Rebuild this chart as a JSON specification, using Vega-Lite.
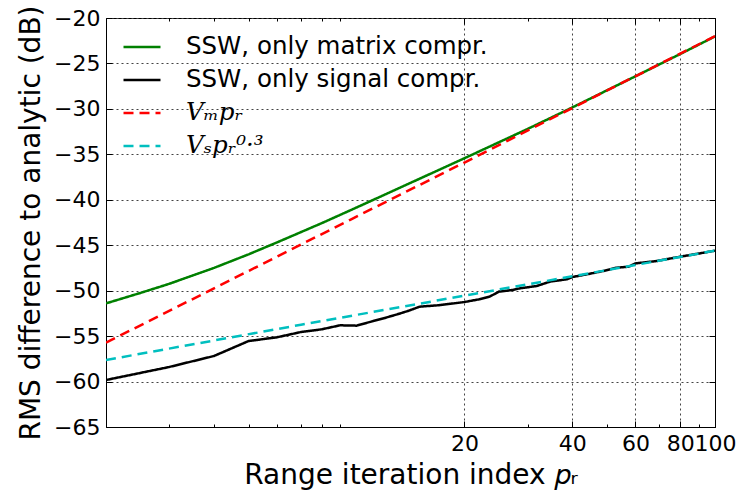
{
  "$schema": "https://vega.github.io/schema/vega-lite/v6.json",
  "width": 609,
  "height": 409,
  "autosize": {"type": "none"},
  "padding": {"left": 106, "top": 18, "right": 24, "bottom": 67},
  "background": "white",
  "config": {"view": {"stroke": "#000", "strokeWidth": 1}, "font": "DejaVu Sans"},
  "data": {"values": [
    {"series": "SSW, only matrix compr.", "p": 2, "db": -51.4},
    {"series": "SSW, only matrix compr.", "p": 2.5, "db": -50.24},
    {"series": "SSW, only matrix compr.", "p": 3, "db": -49.25},
    {"series": "SSW, only matrix compr.", "p": 4, "db": -47.5},
    {"series": "SSW, only matrix compr.", "p": 5, "db": -46.0},
    {"series": "SSW, only matrix compr.", "p": 6, "db": -44.69},
    {"series": "SSW, only matrix compr.", "p": 8, "db": -42.57},
    {"series": "SSW, only matrix compr.", "p": 10, "db": -40.85},
    {"series": "SSW, only matrix compr.", "p": 15, "db": -37.68},
    {"series": "SSW, only matrix compr.", "p": 20, "db": -35.43},
    {"series": "SSW, only matrix compr.", "p": 30, "db": -32.21},
    {"series": "SSW, only matrix compr.", "p": 40, "db": -29.84},
    {"series": "SSW, only matrix compr.", "p": 60, "db": -26.41},
    {"series": "SSW, only matrix compr.", "p": 80, "db": -23.96},
    {"series": "SSW, only matrix compr.", "p": 100, "db": -22.03},
    {"series": "SSW, only signal compr.", "p": 2, "db": -59.83},
    {"series": "SSW, only signal compr.", "p": 3, "db": -58.4},
    {"series": "SSW, only signal compr.", "p": 4, "db": -57.19},
    {"series": "SSW, only signal compr.", "p": 5, "db": -55.54},
    {"series": "SSW, only signal compr.", "p": 6, "db": -55.13},
    {"series": "SSW, only signal compr.", "p": 7, "db": -54.55},
    {"series": "SSW, only signal compr.", "p": 8, "db": -54.25},
    {"series": "SSW, only signal compr.", "p": 9, "db": -53.81},
    {"series": "SSW, only signal compr.", "p": 10, "db": -53.85},
    {"series": "SSW, only signal compr.", "p": 11, "db": -53.4},
    {"series": "SSW, only signal compr.", "p": 12, "db": -53.0},
    {"series": "SSW, only signal compr.", "p": 13, "db": -52.6},
    {"series": "SSW, only signal compr.", "p": 14, "db": -52.2},
    {"series": "SSW, only signal compr.", "p": 15, "db": -51.76},
    {"series": "SSW, only signal compr.", "p": 17, "db": -51.6},
    {"series": "SSW, only signal compr.", "p": 20, "db": -51.25},
    {"series": "SSW, only signal compr.", "p": 22, "db": -50.95},
    {"series": "SSW, only signal compr.", "p": 23.5, "db": -50.66},
    {"series": "SSW, only signal compr.", "p": 25, "db": -50.1},
    {"series": "SSW, only signal compr.", "p": 27, "db": -49.95},
    {"series": "SSW, only signal compr.", "p": 28.6, "db": -49.74},
    {"series": "SSW, only signal compr.", "p": 31.8, "db": -49.49},
    {"series": "SSW, only signal compr.", "p": 34.7, "db": -49.0},
    {"series": "SSW, only signal compr.", "p": 38.6, "db": -48.75},
    {"series": "SSW, only signal compr.", "p": 40, "db": -48.5},
    {"series": "SSW, only signal compr.", "p": 43.9, "db": -48.2},
    {"series": "SSW, only signal compr.", "p": 48.6, "db": -47.85},
    {"series": "SSW, only signal compr.", "p": 53.2, "db": -47.47},
    {"series": "SSW, only signal compr.", "p": 57.4, "db": -47.36},
    {"series": "SSW, only signal compr.", "p": 60, "db": -47.0},
    {"series": "SSW, only signal compr.", "p": 68.7, "db": -46.74},
    {"series": "SSW, only signal compr.", "p": 80, "db": -46.26},
    {"series": "SSW, only signal compr.", "p": 90.6, "db": -45.9},
    {"series": "SSW, only signal compr.", "p": 100, "db": -45.6},
    {"series": "Vₘpᵣ", "p": 2, "db": -55.72},
    {"series": "Vₘpᵣ", "p": 4.53, "db": -48.68},
    {"series": "Vₘpᵣ", "p": 9.6, "db": -42.2},
    {"series": "Vₘpᵣ", "p": 20, "db": -35.9},
    {"series": "Vₘpᵣ", "p": 40, "db": -29.9},
    {"series": "Vₘpᵣ", "p": 80, "db": -23.92},
    {"series": "Vₘpᵣ", "p": 100, "db": -22.0},
    {"series": "Vₛpᵣ⁰·³", "p": 2, "db": -57.63},
    {"series": "Vₛpᵣ⁰·³", "p": 7, "db": -53.75},
    {"series": "Vₛpᵣ⁰·³", "p": 20, "db": -50.55},
    {"series": "Vₛpᵣ⁰·³", "p": 40, "db": -48.42},
    {"series": "Vₛpᵣ⁰·³", "p": 100, "db": -45.6}
  ]},
  "layer": [
    {
      "mark": {"type": "line", "strokeWidth": 2.5, "clip": true},
      "encoding": {
        "x": {
          "field": "p", "type": "quantitative",
          "scale": {"type": "log", "domain": [2, 100], "nice": false},
          "axis": {
            "values": [3, 4, 5, 6, 7, 8, 9, 20, 30, 40, 50, 60, 70, 80, 90, 100],
            "format": "d",
            "labelExpr": "indexof([20,40,60,80,100], datum.value) >= 0 ? datum.label : ''",
            "labelFontSize": 22, "labelColor": "#000", "labelPadding": 12,
            "labelOverlap": false, "labelFlush": false, "labelBound": false,
            "tickSize": {"condition": {"test": "indexof([20,40,60,80,100], datum.value) >= 0", "value": -6}, "value": -3},
            "tickColor": "#000",
            "grid": true, "gridColor": "#444", "gridDash": [2, 3], "gridWidth": 1,
            "gridOpacity": {"condition": {"test": "indexof([20,40,60,80], datum.value) >= 0", "value": 1}, "value": 0},
            "domainColor": "#000",
            "title": "Range iteration index 𝑝ᵣ",
            "titleFontSize": 28, "titleFontWeight": "normal", "titleColor": "#000", "titlePadding": 4
          }
        },
        "y": {
          "field": "db", "type": "quantitative",
          "scale": {"domain": [-65, -20], "nice": false, "zero": false},
          "axis": {
            "values": [-65, -60, -55, -50, -45, -40, -35, -30, -25, -20],
            "labelFontSize": 22, "labelColor": "#000", "labelPadding": 12,
            "labelOverlap": false, "labelFlush": false, "labelBound": false,
            "tickSize": -6, "tickColor": "#000",
            "grid": true, "gridColor": "#444", "gridDash": [2, 3], "gridWidth": 1,
            "domainColor": "#000",
            "title": "RMS difference to analytic (dB)",
            "titleFontSize": 28, "titleFontWeight": "normal", "titleColor": "#000", "titlePadding": 8
          }
        },
        "color": {
          "field": "series", "type": "nominal",
          "scale": {
            "domain": ["SSW, only matrix compr.", "SSW, only signal compr.", "Vₘpᵣ", "Vₛpᵣ⁰·³"],
            "range": ["#008000", "#000000", "#ff0000", "#00bfbf"]
          },
          "legend": {
            "orient": "none", "legendX": 16, "legendY": 9, "title": null,
            "symbolType": "stroke", "symbolSize": 1369, "symbolStrokeWidth": 2.5,
            "labelFontSize": 24.5, "labelColor": "#000", "labelOffset": 24, "labelLimit": 500,
            "rowPadding": 1,
            "encode": {"labels": {"update": {
              "font": {"signal": "indexof(datum.label, 'SSW') >= 0 ? 'DejaVu Sans' : 'DejaVu Serif'"},
              "fontStyle": {"signal": "indexof(datum.label, 'SSW') >= 0 ? 'normal' : 'italic'"}
            }}}
          }
        },
        "strokeDash": {
          "field": "series", "type": "nominal",
          "scale": {
            "domain": ["SSW, only matrix compr.", "SSW, only signal compr.", "Vₘpᵣ", "Vₛpᵣ⁰·³"],
            "range": [[1, 0], [1, 0], [10, 6], [10, 6]]
          },
          "legend": {
            "orient": "none", "legendX": 16, "legendY": 9, "title": null,
            "symbolType": "stroke", "symbolSize": 1369, "symbolStrokeWidth": 2.5,
            "labelFontSize": 24.5, "labelColor": "#000", "labelOffset": 24, "labelLimit": 500,
            "rowPadding": 1,
            "encode": {"labels": {"update": {
              "font": {"signal": "indexof(datum.label, 'SSW') >= 0 ? 'DejaVu Sans' : 'DejaVu Serif'"},
              "fontStyle": {"signal": "indexof(datum.label, 'SSW') >= 0 ? 'normal' : 'italic'"}
            }}}
          }
        }
      }
    },
    {
      "mark": {"type": "line", "opacity": 0},
      "encoding": {
        "x": {
          "field": "p", "type": "quantitative",
          "scale": {"type": "log", "domain": [2, 100], "nice": false},
          "axis": {
            "orient": "top",
            "values": [3, 4, 5, 6, 7, 8, 9, 20, 30, 40, 50, 60, 70, 80, 90, 100],
            "labels": false, "title": null, "grid": false, "domain": false,
            "tickSize": {"condition": {"test": "indexof([20,40,60,80,100], datum.value) >= 0", "value": -6}, "value": -3},
            "tickColor": "#000"
          }
        },
        "y": {
          "field": "db", "type": "quantitative",
          "scale": {"domain": [-65, -20], "nice": false, "zero": false},
          "axis": {
            "orient": "right",
            "values": [-65, -60, -55, -50, -45, -40, -35, -30, -25, -20],
            "labels": false, "title": null, "grid": false, "domain": false,
            "tickSize": -6, "tickColor": "#000"
          }
        }
      }
    }
  ],
  "resolve": {"scale": {"x": "independent", "y": "independent"}}
}
